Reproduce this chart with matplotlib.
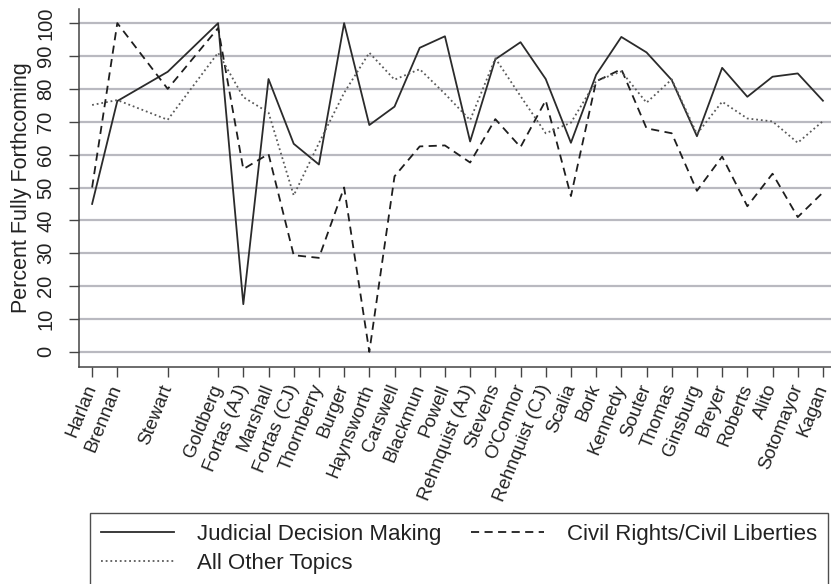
import matplotlib
matplotlib.use("Agg")
import matplotlib.pyplot as plt

plt.rcParams['font.family'] = ['Liberation Sans', 'DejaVu Sans']

justices = ["Harlan", "Brennan", "Stewart", "Goldberg", "Fortas (AJ)", "Marshall",
            "Fortas (CJ)", "Thornberry", "Burger", "Haynsworth", "Carswell", "Blackmun",
            "Powell", "Rehnquist (AJ)", "Stevens", "O'Connor", "Rehnquist (CJ)", "Scalia",
            "Bork", "Kennedy", "Souter", "Thomas", "Ginsburg", "Breyer", "Roberts",
            "Alito", "Sotomayor", "Kagan"]
positions = [0, 1, 3, 5, 6, 7, 8, 9, 10, 11, 12, 13, 14, 15, 16, 17, 18, 19,
             20, 21, 22, 23, 24, 25, 26, 27, 28, 29]

judicial = [45, 76.3, 85.2, 100, 14.5, 83, 63.3, 57, 100, 69, 74.6, 92.5,
            96, 64, 89, 94.2, 83, 63.6, 84.3, 95.8, 91.1, 82.7, 65.6, 86.4,
            77.6, 83.7, 84.7, 76.4]
civil = [50, 100, 80, 98.5, 55.6, 60.2, 29.4, 28.6, 50, 0, 53.4, 62.5,
         62.8, 57.6, 70.8, 62.3, 76.5, 47.4, 82.3, 86, 68, 66.5, 49, 59.4,
         44.3, 54.2, 41, 48.5]
other = [75.1, 76.6, 70.6, 91, 77.5, 72.8, 47.6, 63.5, 78.8, 91, 82.8, 86,
         78.5, 70.5, 89.3, 77.8, 66.5, 69.7, 82.4, 85.3, 75.8, 82.9, 66.3, 76.1,
         71, 70.1, 63.6, 70.2]

fig = plt.figure(figsize=(8.31, 5.84), dpi=100)
ax = fig.add_axes([79/831, 1-367/584, 1-79/831, (367-9)/584])

grid_color = '#b9b9c0'
for v in range(0, 101, 10):
    ax.axhline(v, color=grid_color, lw=1.6, zorder=0)

h1, = ax.plot(positions, judicial, color='#2b2b2b', lw=1.3, ls='-',
              label='Judicial Decision Making', zorder=3)
h2, = ax.plot(positions, civil, color='#1e1e1e', lw=1.3, ls=(0, (4.5, 3)),
              label='Civil Rights/Civil Liberties', zorder=3)
h3, = ax.plot(positions, other, color='#5a5a5a', lw=1.3, ls=(0, (1, 1.6)),
              label='All Other Topics', zorder=3)

ax.set_xlim(-0.52, 29.32)
ax.set_ylim(-4.6, 104.3)
ax.set_yticks(range(0, 101, 10))
ax.set_yticklabels([str(v) for v in range(0, 101, 10)], rotation=90,
                   va='center', fontsize=14.5, color='#222222')
ax.set_xticks(positions)
ax.set_xticklabels(justices, rotation=68, ha='right', va='center',
                   rotation_mode='anchor', fontsize=13.5, color='#222222')
ax.tick_params(axis='x', length=7, width=1, color='#444444', pad=6)
ax.tick_params(axis='y', length=7, width=1, color='#444444', pad=10)
ax.set_ylabel('Percent Fully Forthcoming', fontsize=15.5, color='#222222', labelpad=3)

for s in ['top', 'right']:
    ax.spines[s].set_visible(False)
for s in ['left', 'bottom']:
    ax.spines[s].set_color('#444444')
    ax.spines[s].set_linewidth(1.1)

leg = fig.legend(handles=[h1, h3, h2], loc='upper left',
                 bbox_to_anchor=(90/831, 1-513/584),
                 ncol=2, fontsize=16, frameon=True, fancybox=False,
                 edgecolor='#222222', handlelength=3.3, handletextpad=1.0,
                 columnspacing=1.35, labelspacing=0.35, borderpad=0.5,
                 borderaxespad=0)
leg.get_frame().set_linewidth(1.0)
for t in leg.get_texts():
    t.set_color('#222222')

fig.savefig('out.png', dpi=100)
